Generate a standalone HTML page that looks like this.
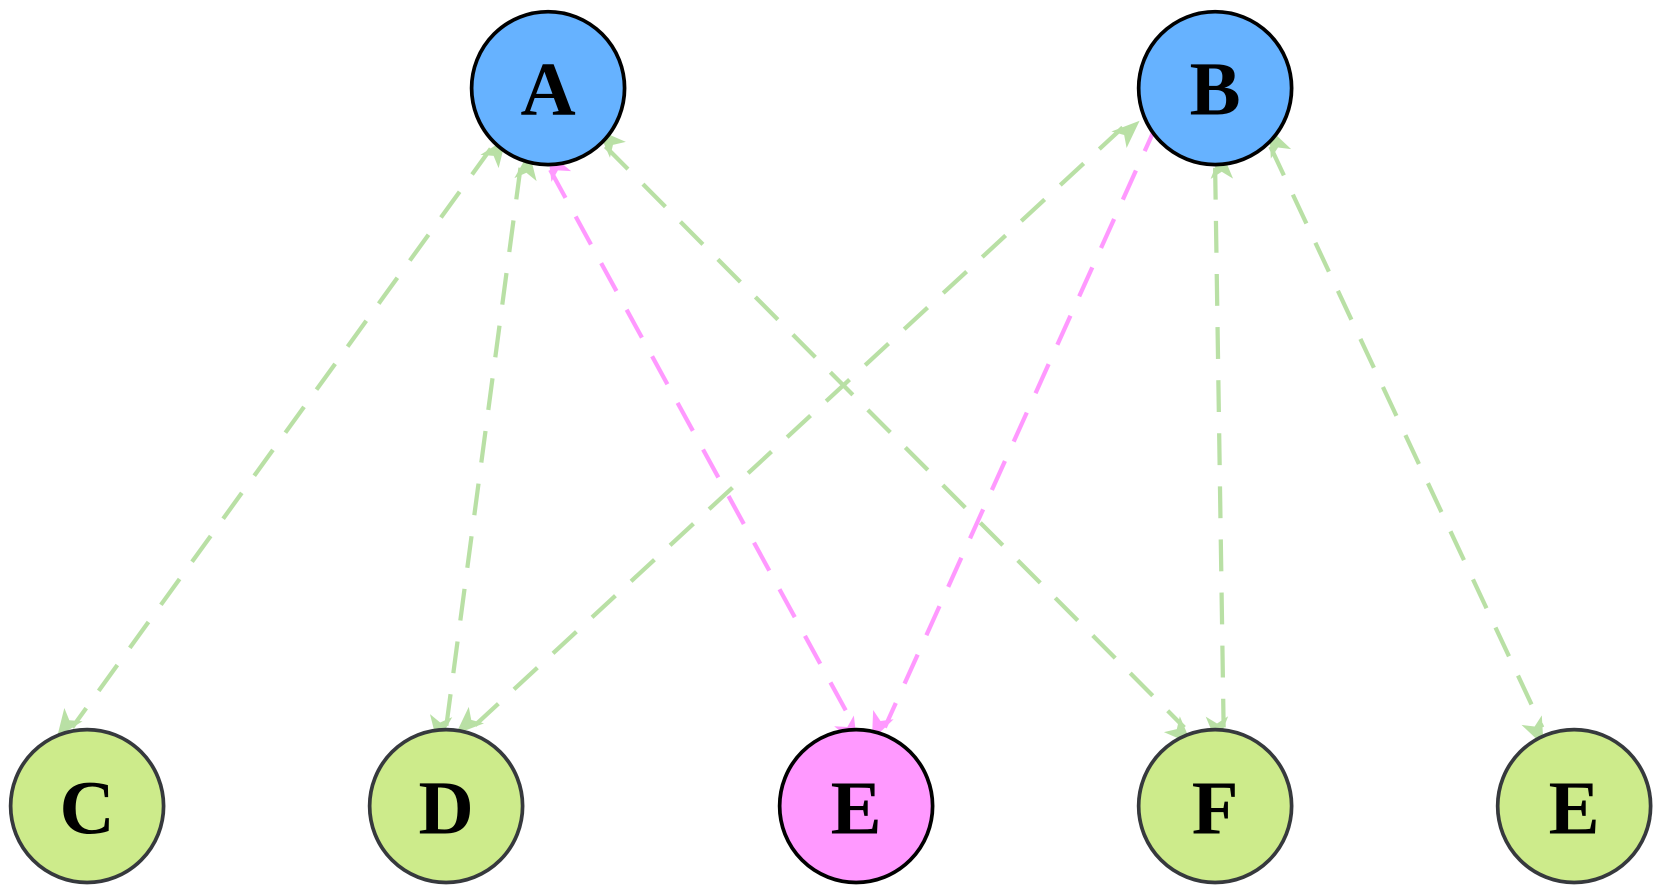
<!DOCTYPE html>
<html><head><style>html,body{margin:0;padding:0;background:#fff;}svg{display:block}</style></head><body>
<svg width="1657" height="891" viewBox="0 0 1560 839" preserveAspectRatio="none" xmlns="http://www.w3.org/2000/svg">
<defs>
<marker id="g" viewBox="0 0 20 16" refX="19" refY="8" markerWidth="11" markerHeight="9" markerUnits="userSpaceOnUse" orient="auto-start-reverse" style="overflow:visible">
<path d="M0,0 L20,8 L0,16 L5,8 Z" fill="#b9e0a5" transform="scale(2.4)"/>
</marker>
<marker id="p" viewBox="0 0 20 16" refX="19" refY="8" markerWidth="11" markerHeight="9" markerUnits="userSpaceOnUse" orient="auto-start-reverse" style="overflow:visible">
<path d="M0,0 L20,8 L0,16 L5,8 Z" fill="#ff99ff" transform="scale(2.4)"/>
</marker>
</defs>
<g fill="none" stroke-width="4" stroke-dasharray="30 20">
<g stroke="#b9e0a5">
<line x1="462" y1="140" x2="68" y2="685" marker-start="url(#g)" marker-end="url(#g)"/>
<line x1="490" y1="158" x2="420" y2="685" marker-start="url(#g)" marker-end="url(#g)"/>
<line x1="570" y1="138" x2="1115" y2="685" marker-start="url(#g)" marker-end="url(#g)"/>
<line x1="1057" y1="120" x2="445" y2="685" marker-start="url(#g)" marker-end="url(#g)"/>
<line x1="1144" y1="158" x2="1152" y2="685" marker-start="url(#g)" marker-end="url(#g)"/>
<line x1="1196" y1="138" x2="1452" y2="685" marker-start="url(#g)" marker-end="url(#g)"/>
</g>
<g stroke="#ff99ff">
<line x1="518" y1="160" x2="805" y2="685" marker-start="url(#p)" marker-end="url(#p)"/>
<line x1="1090" y1="115" x2="833" y2="685" marker-start="url(#p)" marker-end="url(#p)"/>
</g>
</g>
<g stroke-width="3.5">
<circle cx="516" cy="83" r="72" fill="#66b2ff" stroke="#000"/>
<circle cx="1144" cy="83" r="72" fill="#66b2ff" stroke="#000"/>
<circle cx="82" cy="759" r="72" fill="#cdeb8b" stroke="#36393d"/>
<circle cx="420" cy="759" r="72" fill="#cdeb8b" stroke="#36393d"/>
<circle cx="806" cy="759" r="72" fill="#ff99ff" stroke="#000"/>
<circle cx="1144" cy="759" r="72" fill="#cdeb8b" stroke="#36393d"/>
<circle cx="1482" cy="759" r="72" fill="#cdeb8b" stroke="#36393d"/>
</g>
<g font-family="'Liberation Serif',serif" font-weight="bold" font-size="72" text-anchor="middle" fill="#000">
<text x="516" y="108">A</text>
<text x="1144" y="108">B</text>
<text x="82" y="785">C</text>
<text x="420" y="785">D</text>
<text x="806" y="785">E</text>
<text x="1144" y="785">F</text>
<text x="1482" y="785">E</text>
</g>
</svg>
</body></html>
